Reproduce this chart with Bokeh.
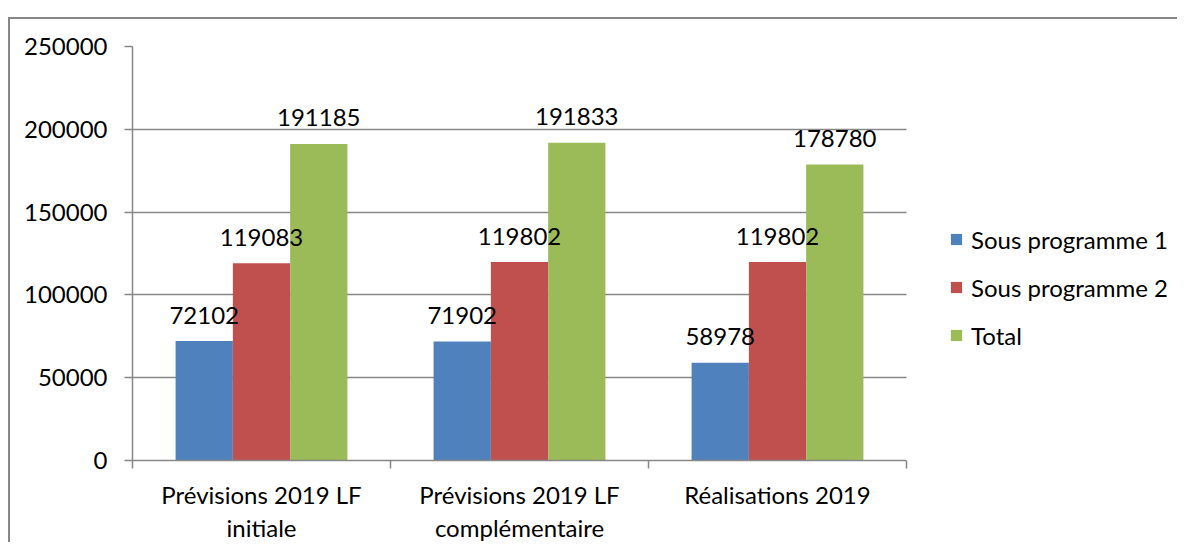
from bokeh.plotting import figure
from bokeh.models import (Range1d, FixedTicker, Legend, LegendItem, ColumnDataSource,
                          NumeralTickFormatter, BoxAnnotation)
from bokeh.transform import dodge
from bokeh.core.properties import value
from bokeh.embed import file_html
from bokeh.resources import INLINE

categories = ["Prévisions 2019 LF initiale", "Prévisions 2019 LF complémentaire", "Réalisations 2019"]
category_labels = ["Prévisions 2019 LF\ninitiale", "Prévisions 2019 LF\ncomplémentaire", "Réalisations 2019"]
series_names = ["Sous programme 1", "Sous programme 2", "Total"]
sous_programme_1 = [72102, 71902, 58978]
sous_programme_2 = [119083, 119802, 119802]
total = [191185, 191833, 178780]
y_ticks = [0, 50000, 100000, 150000, 200000, 250000]
colors = ["#4F81BD", "#C0504D", "#9BBB59"]

FONT = "Lato"
FS = "24px"
GRAY = "#878787"

W = 1169
LEFT, TOP, BOTTOM = 122, 27, 82
FRAME_H = 414
CAT_PX = 774  # pixel width of the category area
n = len(categories)
centers = [i + 0.5 for i in range(n)]
bw = 0.222
offsets = [-bw, 0.0, bw]
series = [sous_programme_1, sous_programme_2, total]
x_end = n * (W - LEFT) / CAT_PX

p = figure(width=W, frame_height=FRAME_H, x_range=Range1d(0, x_end),
           y_range=Range1d(y_ticks[0], y_ticks[-1]),
           output_backend="svg", toolbar_location=None,
           min_border_left=LEFT, min_border_right=0, min_border_top=TOP, min_border_bottom=BOTTOM)
p.margin = (19, 0, 0, 10)
p.styles = {"box-shadow": "-2px -2px 0 0 #878787"}
p.outline_line_color = None
p.xgrid.visible = False
p.ygrid.grid_line_color = GRAY
p.ygrid.grid_line_width = 1.5
p.ygrid.ticker = FixedTicker(ticks=y_ticks)

items = []
for name, vals, col, off in zip(series_names, series, colors, offsets):
    src = ColumnDataSource(dict(x=centers, v=vals, lab=[str(v) for v in vals]))
    r = p.vbar(x=dodge("x", off, range=p.x_range), top="v", bottom=0, width=bw, source=src,
               fill_color=col, line_color=None)
    items.append(LegendItem(label=name, renderers=[r]))
for name, vals, col, off in zip(series_names, series, colors, offsets):
    src = ColumnDataSource(dict(x=centers, v=vals, lab=[str(v) for v in vals]))
    p.text(x=dodge("x", off, range=p.x_range), y="v", text="lab", source=src,
           text_font=value(FONT), text_font_size=FS, text_color="black",
           text_align="center", text_baseline="alphabetic", y_offset=-26)

# blank area to the right of the category area (legend zone)
p.add_layout(BoxAnnotation(left=n, fill_color="white", fill_alpha=1.0, line_color=None))

# axes
p.yaxis.ticker = FixedTicker(ticks=y_ticks)
p.yaxis.formatter = NumeralTickFormatter(format="0")
p.yaxis.axis_line_color = GRAY
p.yaxis.axis_line_width = 1.5
p.yaxis.major_tick_line_color = GRAY
p.yaxis.major_tick_line_width = 1.5
p.yaxis.major_tick_out = 8
p.yaxis.major_tick_in = 0
p.yaxis.minor_tick_line_color = None
p.yaxis.major_label_standoff = 17
p.yaxis.major_label_text_font = FONT
p.yaxis.major_label_text_font_size = FS
p.yaxis.major_label_text_color = "black"

p.xaxis.bounds = (0, n)
p.xaxis.ticker = FixedTicker(ticks=centers, minor_ticks=[float(i) for i in range(n + 1)])
p.xaxis.major_label_overrides = {c: lab for c, lab in zip(centers, category_labels)}
p.xaxis.axis_line_color = GRAY
p.xaxis.axis_line_width = 1.5
p.xaxis.major_tick_line_color = None
p.xaxis.major_tick_out = 0
p.xaxis.major_tick_in = 0
p.xaxis.minor_tick_line_color = GRAY
p.xaxis.minor_tick_line_width = 1.5
p.xaxis.minor_tick_out = 8
p.xaxis.minor_tick_in = 0
p.xaxis.major_label_standoff = 11
p.xaxis.major_label_text_font = FONT
p.xaxis.major_label_text_font_size = FS
p.xaxis.major_label_text_color = "black"
p.xaxis.major_label_text_line_height = 1.15

legend = Legend(items=items, location=(CAT_PX + 43, 110), orientation="vertical",
                label_text_font=FONT, label_text_font_size=FS, label_text_color="black",
                glyph_width=14, glyph_height=14, label_standoff=8, label_height=30,
                spacing=18, padding=0, margin=0, border_line_color=None,
                background_fill_alpha=0)
p.add_layout(legend, "center")

open("out.html", "w").write(file_html(p, INLINE))
